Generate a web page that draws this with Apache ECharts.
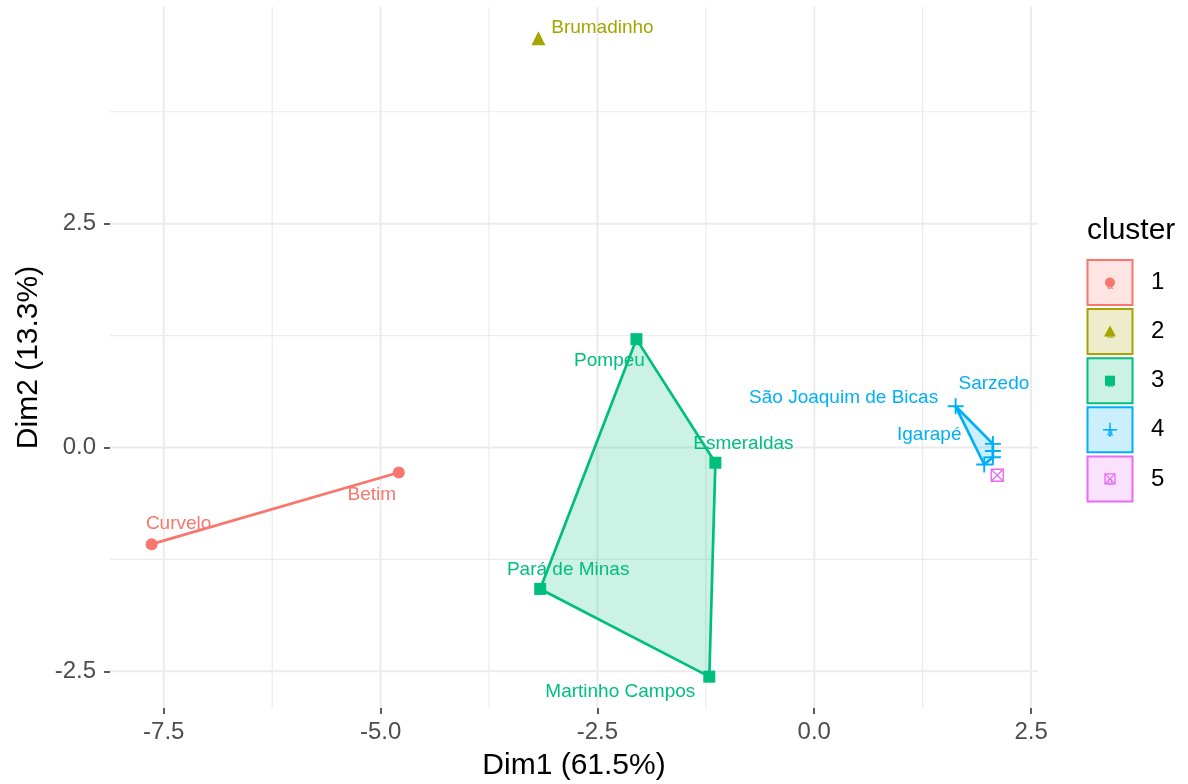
<!DOCTYPE html>
<html>
<head>
<meta charset="utf-8">
<script src="https://cdn.jsdelivr.net/npm/echarts@6/dist/echarts.min.js"></script>
<style>
  html, body { margin: 0; padding: 0; background: #ffffff; }
  #chart { width: 1188px; height: 784px; }
</style>
</head>
<body>
<div id="chart"></div>
<script>
// Municipalities projected on the first two PCA dimensions, grouped by cluster
const cityNames = ['Curvelo', 'Betim', 'Brumadinho', 'Pompeu', 'Esmeraldas', 'Pará de Minas',
                   'Martinho Campos', 'São Joaquim de Bicas', 'Sarzedo', '', '', 'Igarapé', ''];
const dim1 = [-7.64, -4.79, -3.18, -2.05, -1.14, -3.16, -1.21, 1.63, 2.06, 2.06, 2.06, 1.96, 2.11];
const dim2 = [-1.08, -0.28, 4.57, 1.21, -0.17, -1.58, -2.56, 0.46, 0.04, -0.04, -0.11, -0.19, -0.31];
const clusterOf = [1, 1, 2, 3, 3, 3, 3, 4, 4, 4, 4, 4, 5];

const clusterIds = [1, 2, 3, 4, 5];
const clusterColors = ['#F8766D', '#A3A500', '#00BF7D', '#00B0F6', '#E76BF3'];

const xTicks = [-7.5, -5.0, -2.5, 0.0, 2.5];
const yTicks = [-2.5, 0.0, 2.5];
const xMinorTicks = [-6.25, -3.75, -1.25, 1.25];
const yMinorTicks = [-1.25, 1.25, 3.75];

const xTitle = 'Dim1 (61.5%)';
const yTitle = 'Dim2 (13.3%)';
const legendTitle = 'cluster';

// ---- styling / layout ----
const FONT = '"Liberation Sans", Arial, sans-serif';
const GRID = { left: 110, top: 7, right: 150, bottom: 76 };

// label nudges in pixels (text centre relative to point)
const labelNudge = {
  'Curvelo': [27, -20], 'Betim': [-27, 22], 'Brumadinho': [64, -11], 'Pompeu': [-27, 22],
  'Esmeraldas': [28, -19], 'Pará de Minas': [28, -19], 'Martinho Campos': [-89, 15],
  'São Joaquim de Bicas': [-112, -9], 'Sarzedo': [1, -60], 'Igarapé': [-55, -30]
};

const symbolFor = {
  1: { symbol: 'circle', size: 12, outline: false },
  2: { symbol: 'triangle', size: 14, outline: false },
  3: { symbol: 'rect', size: 12, outline: false },
  4: { symbol: 'path://M5,0V10M0,5H10', size: 16, outline: true, lw: 1.9 },
  5: { symbol: 'path://M0,0H10V10H0ZM0,0L10,10M10,0L0,10', size: 12, outline: true, lw: 1.4 }
};

function alpha(hex, a) {
  const n = parseInt(hex.slice(1), 16);
  return 'rgba(' + ((n >> 16) & 255) + ',' + ((n >> 8) & 255) + ',' + (n & 255) + ',' + a + ')';
}

// convex hull (monotone chain)
function convexHull(pts) {
  const p = pts.slice().sort((a, b) => a[0] - b[0] || a[1] - b[1]);
  if (p.length < 3) return p;
  const cross = (o, a, b) => (a[0] - o[0]) * (b[1] - o[1]) - (a[1] - o[1]) * (b[0] - o[0]);
  const lower = [], upper = [];
  for (const q of p) { while (lower.length >= 2 && cross(lower[lower.length - 2], lower[lower.length - 1], q) <= 0) lower.pop(); lower.push(q); }
  for (let i = p.length - 1; i >= 0; i--) { const q = p[i]; while (upper.length >= 2 && cross(upper[upper.length - 2], upper[upper.length - 1], q) <= 0) upper.pop(); upper.push(q); }
  upper.pop(); lower.pop();
  return lower.concat(upper);
}

const series = [];

// background grid lines
const gridLines = [];
xTicks.forEach(v => gridLines.push([v, 0, 0]));
xMinorTicks.forEach(v => gridLines.push([v, 0, 1]));
yTicks.forEach(v => gridLines.push([0, v, 2]));
yMinorTicks.forEach(v => gridLines.push([0, v, 3]));
series.push({
  type: 'custom', silent: true, z: 0,
  data: gridLines,
  encode: { x: 0, y: 1 },
  renderItem: function (params, api) {
    const cs = params.coordSys;
    const kind = api.value(2);
    const w = (kind === 0 || kind === 2) ? 2 : 1.2;
    let shape;
    if (kind < 2) {
      const px = api.coord([api.value(0), 0])[0];
      shape = { x1: px, y1: cs.y, x2: px, y2: cs.y + cs.height };
    } else {
      const py = api.coord([0, api.value(1)])[1];
      shape = { x1: cs.x, y1: py, x2: cs.x + cs.width, y2: py };
    }
    return { type: 'line', shape: shape, style: { stroke: '#EBEBEB', lineWidth: w } };
  }
});

// cluster hulls
clusterIds.forEach((cid, ci) => {
  const pts = [];
  dim1.forEach((x, i) => { if (clusterOf[i] === cid) pts.push([x, dim2[i]]); });
  if (pts.length < 2) return;
  const hull = convexHull(pts);
  const col = clusterColors[ci];
  series.push({
    type: 'custom', silent: true, z: 1,
    data: hull,
    encode: { x: 0, y: 1 },
    renderItem: function (params, api) {
      if (params.dataIndex !== 0) return null;
      const points = hull.map(h => api.coord(h));
      return {
        type: 'polygon',
        shape: { points: points },
        style: { fill: alpha(col, 0.2), stroke: col, lineWidth: 2.7, lineJoin: 'round' }
      };
    }
  });
});

// points and labels
clusterIds.forEach((cid, ci) => {
  const col = clusterColors[ci];
  const sym = symbolFor[cid];
  const data = [];
  dim1.forEach((x, i) => {
    if (clusterOf[i] !== cid) return;
    const name = cityNames[i];
    const nudge = labelNudge[name] || [0, 0];
    data.push({
      name: name,
      value: [x, dim2[i]],
      label: { show: name !== '', offset: nudge }
    });
  });
  series.push({
    type: 'scatter', name: String(cid), z: 3,
    symbol: sym.symbol, symbolSize: sym.size,
    itemStyle: sym.outline
      ? { color: 'rgba(0,0,0,0)', borderColor: col, borderWidth: sym.lw, opacity: 1 }
      : { color: col, opacity: 1 },
    label: {
      position: 'inside', align: 'center', verticalAlign: 'middle',
      formatter: '{b}', color: col, fontFamily: FONT, fontSize: 19
    },
    emphasis: { disabled: true },
    data: data
  });
});

// legend drawn as keys
const legendGraphics = [{
  type: 'text', left: 1087, top: 216,
  style: { text: legendTitle, fill: '#000', font: '30px ' + FONT }
}];
clusterIds.forEach((cid, ci) => {
  const col = clusterColors[ci];
  const top = 260 + ci * 49.1;
  const cx = 1110, cy = top + 22.5;
  const children = [{
    type: 'rect', shape: { x: 1087.5, y: top, width: 45, height: 45 },
    style: { fill: alpha(col, 0.2), stroke: col, lineWidth: 2 }
  }, {
    type: 'text', x: cx, y: cy + 3,
    style: { text: 'a', fill: col, font: '11px ' + FONT, align: 'center', verticalAlign: 'middle' }
  }];
  if (cid === 1) children.push({ type: 'circle', shape: { cx: cx, cy: cy, r: 5 }, style: { fill: col } });
  if (cid === 2) children.push({ type: 'polygon', shape: { points: [[cx, cy - 6], [cx - 6, cy + 5], [cx + 6, cy + 5]] }, style: { fill: col } });
  if (cid === 3) children.push({ type: 'rect', shape: { x: cx - 5, y: cy - 5, width: 10, height: 10 }, style: { fill: col } });
  if (cid === 4) children.push({ type: 'polyline', shape: { points: [[cx - 7, cy], [cx + 7, cy]] }, style: { stroke: col, lineWidth: 1.6, fill: null } },
                               { type: 'polyline', shape: { points: [[cx, cy - 7], [cx, cy + 7]] }, style: { stroke: col, lineWidth: 1.6, fill: null } });
  if (cid === 5) children.push({ type: 'rect', shape: { x: cx - 5, y: cy - 5, width: 10, height: 10 }, style: { fill: 'none', stroke: col, lineWidth: 1.3 } },
                               { type: 'polyline', shape: { points: [[cx - 5, cy - 5], [cx + 5, cy + 5]] }, style: { stroke: col, lineWidth: 1.3, fill: null } },
                               { type: 'polyline', shape: { points: [[cx + 5, cy - 5], [cx - 5, cy + 5]] }, style: { stroke: col, lineWidth: 1.3, fill: null } });
  legendGraphics.push({ type: 'group', children: children });
  legendGraphics.push({
    type: 'text', x: 1151, y: cy,
    style: { text: String(cid), fill: '#000', font: '24px ' + FONT, verticalAlign: 'middle' }
  });
});

const chart = echarts.init(document.getElementById('chart'), null, { renderer: 'canvas' });
chart.setOption({
  animation: false,
  backgroundColor: '#ffffff',
  textStyle: { fontFamily: FONT },
  grid: Object.assign({ containLabel: false, outerBoundsMode: 'none' }, GRID),
  xAxis: {
    type: 'value', min: -8.12, max: 2.58,
    name: xTitle, nameLocation: 'middle', nameGap: 43,
    nameTextStyle: { color: '#000', fontSize: 30, fontFamily: FONT },
    axisLine: { show: false, onZero: false },
    axisTick: { show: true, customValues: xTicks, length: 6, lineStyle: { color: '#333333', width: 1.6 } },
    axisLabel: { customValues: xTicks, formatter: v => v.toFixed(1), color: '#4D4D4D', fontSize: 24, margin: 12, fontFamily: FONT },
    splitLine: { show: false }
  },
  yAxis: {
    type: 'value', min: -2.91, max: 4.92,
    name: yTitle, nameLocation: 'middle', nameGap: 66,
    nameTextStyle: { color: '#000', fontSize: 30, fontFamily: FONT },
    axisLine: { show: false, onZero: false },
    axisTick: { show: true, customValues: yTicks, length: 6, lineStyle: { color: '#333333', width: 1.6 } },
    axisLabel: { customValues: yTicks, formatter: v => v.toFixed(1), color: '#4D4D4D', fontSize: 24, margin: 14, fontFamily: FONT },
    splitLine: { show: false }
  },
  graphic: legendGraphics,
  series: series
});
</script>
</body>
</html>
